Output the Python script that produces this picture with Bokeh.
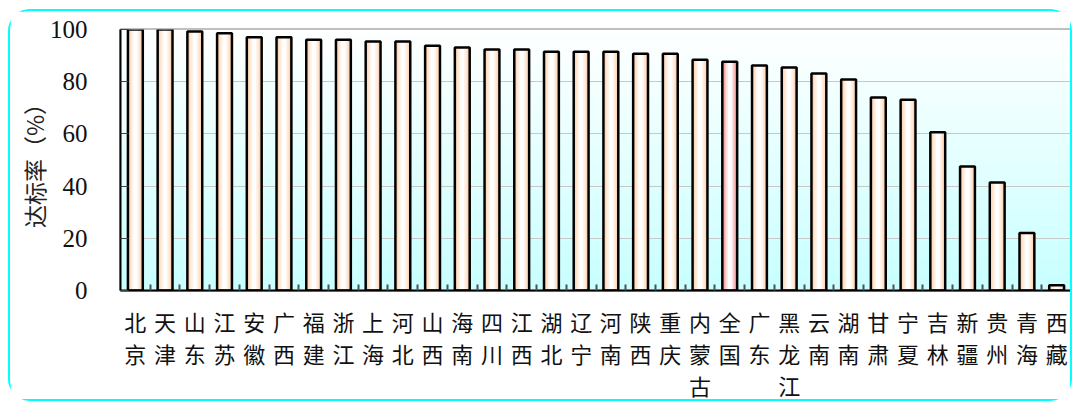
from bokeh.plotting import figure
from bokeh.models import (Range1d, LinearAxis, FixedTicker,
                          BoxAnnotation, ColumnDataSource)
from bokeh.embed import file_html
from bokeh.resources import INLINE

# ---- data ----
provinces = ["北京", "天津", "山东", "江苏", "安徽", "广西", "福建", "浙江", "上海", "河北",
             "山西", "海南", "四川", "江西", "湖北", "辽宁", "河南", "陕西", "重庆", "内蒙古",
             "全国", "广东", "黑龙江", "云南", "湖南", "甘肃", "宁夏", "吉林", "新疆", "贵州",
             "青海", "西藏"]
rates = [100.0, 100.0, 99.2, 98.6, 97.0, 97.0, 96.1, 96.1, 95.4, 95.4,
         93.8, 93.1, 92.3, 92.3, 91.5, 91.5, 91.5, 90.7, 90.7, 88.4,
         87.6, 86.2, 85.4, 83.1, 80.8, 73.9, 73.1, 60.6, 47.5, 41.4,
         22.0, 2.0]
highlight = "全国"
y_ticks = [0, 20, 40, 60, 80, 100]
y_label = "达标率（%）"

n = len(provinces)
centers = [i + 0.5 for i in range(n)]          # category slot centres
boundaries = list(range(1, n))                 # category slot boundaries

# ---- styling ----
normal_layers = ["#fccca2", "#fdd9bb", "#fee6d3", "#fff2e8", "#ffffff"]
hl_layers = ["#f08484", "#f4a4a4", "#f8c4c4", "#fce2e2", "#ffffff"]
layer_widths = [0.5, 0.42, 0.33, 0.24, 0.13]

W, H = 1064, 392
p = figure(width=W, height=H,
           x_range=Range1d(0, n), y_range=Range1d(0, 100),
           output_backend="svg", toolbar_location=None,
           x_axis_location=None,
           min_border_left=110, min_border_right=3, min_border_top=18,
           min_border_bottom=H - 18 - 261,
           background_fill_color="white", border_fill_color="white",
           outline_line_color="#808080", outline_line_width=2,
           styles={"border": "2px solid #00ffff", "border-radius": "22px",
                   "margin-left": "8px", "margin-top": "9px"})

# gradient background (white at top -> light cyan at bottom)
nb = 50
top_c = (255, 255, 255)
bot_c = (200, 255, 255)
for i in range(nb):
    t = (i + 0.5) / nb
    r = int(round(bot_c[0] + (top_c[0] - bot_c[0]) * t))
    g = int(round(bot_c[1] + (top_c[1] - bot_c[1]) * t))
    b = int(round(bot_c[2] + (top_c[2] - bot_c[2]) * t))
    p.add_layout(BoxAnnotation(bottom=100 * i / nb, top=100 * (i + 1) / nb + 0.3,
                               fill_color=(r, g, b), fill_alpha=1.0, line_color=None,
                               level="image", propagate_hover=False))

cols = {"x": centers, "top": rates}
for k in range(len(layer_widths)):
    cols[f"c{k}"] = [hl_layers[k] if pr == highlight else normal_layers[k] for pr in provinces]
src = ColumnDataSource(cols)

for k, w in enumerate(layer_widths):
    p.vbar(x="x", top="top", bottom=0, width=w, source=src,
           fill_color=f"c{k}", line_color=None)
p.vbar(x="x", top="top", bottom=0, width=0.5, source=src,
       fill_color=None, line_color="black", line_width=2.5)

# y axis
yax = p.yaxis[0]
yax.ticker = FixedTicker(ticks=y_ticks)
yax.major_tick_in = 8
yax.major_tick_out = 0
yax.major_tick_line_color = "#404040"
yax.minor_tick_line_color = None
yax.axis_line_color = "black"
yax.axis_line_width = 2
yax.major_label_text_font = "Liberation Serif"
yax.major_label_text_font_size = "25px"
yax.major_label_text_color = "#111111"
yax.major_label_standoff = 33
yax.axis_label = y_label
yax.axis_label_text_font = "Noto Sans CJK SC"
yax.axis_label_text_font_style = "normal"
yax.axis_label_text_font_size = "23px"
yax.axis_label_text_color = "#222222"
yax.axis_label_standoff = -4

p.ygrid.grid_line_color = "#c8c8c8"
p.ygrid.grid_line_width = 1
p.xgrid.visible = False

# bottom tick axis (ticks between categories)
tick_axis = LinearAxis(ticker=FixedTicker(ticks=boundaries),
                       major_tick_in=6, major_tick_out=0,
                       major_tick_line_color="#505050", major_tick_line_width=2,
                       minor_tick_line_color=None,
                       axis_line_color="black", axis_line_width=2,
                       major_label_text_font_size="0px", major_label_standoff=0,
                       major_label_overrides={b: "" for b in boundaries})

# category label axis
cat_axis = LinearAxis(ticker=FixedTicker(ticks=centers),
                      axis_line_color=None, major_tick_line_color=None,
                      minor_tick_line_color=None,
                      major_label_overrides={c: "\n".join(pr) for c, pr in zip(centers, provinces)},
                      major_label_text_font="Noto Sans CJK SC",
                      major_label_text_font_size="22px",
                      major_label_text_color="#111111",
                      major_label_standoff=8,
                      major_label_text_line_height=1.0)

p.add_layout(tick_axis, "below")
p.add_layout(cat_axis, "below")

open("out.html", "w").write(file_html(p, INLINE))
